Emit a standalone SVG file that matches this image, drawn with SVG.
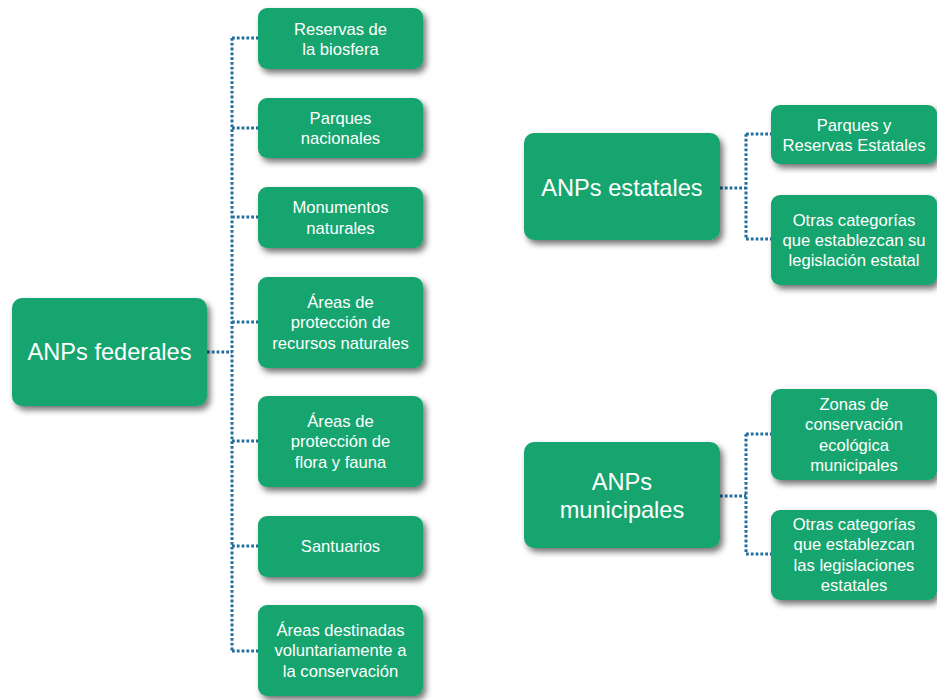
<svg xmlns="http://www.w3.org/2000/svg" width="937" height="700" viewBox="0 0 937 700">
<defs>
<filter id="sh" x="-20%" y="-20%" width="140%" height="150%">
<feDropShadow dx="3" dy="4" stdDeviation="3" flood-color="#000" flood-opacity="0.55"/>
</filter>
<style>
.box{fill:#19a56e;filter:url(#sh)}
.t{fill:#fff;font-family:"Liberation Sans",Arial,Helvetica,sans-serif;font-size:16.6px;text-anchor:middle}
.big{font-size:23.6px}
.c{fill:none;stroke:#226f9f;stroke-width:3;stroke-dasharray:2.8 2}
</style>
</defs>
<rect width="937" height="700" fill="#fff"/>
<g id="connectors">
<path class="c" d="M207 352H232M232 38V651M232 38H258M232 128H258M232 217H258M232 322H258M232 441H258M232 546H258M232 651H258"/>
<path class="c" d="M720 188H746M746 134V239M746 134H771M746 239H771"/>
<path class="c" d="M720 496H746M746 434V554M746 434H771M746 554H771"/>
</g>
<g id="federales"><rect class="box" x="12" y="298" width="195" height="108" rx="10"/><text class="t big" x="109.5" y="360">ANPs federales</text></g>
<g id="reservas"><rect class="box" x="258" y="8" width="165" height="61" rx="9"/><text class="t" x="340.5" y="35">Reservas de</text><text class="t" x="340.5" y="55">la biosfera</text></g>
<g id="parques"><rect class="box" x="258" y="98" width="165" height="60" rx="9"/><text class="t" x="340.5" y="124">Parques</text><text class="t" x="340.5" y="144">nacionales</text></g>
<g id="monumentos"><rect class="box" x="258" y="187" width="165" height="61" rx="9"/><text class="t" x="340.5" y="213">Monumentos</text><text class="t" x="340.5" y="234">naturales</text></g>
<g id="recursos"><rect class="box" x="258" y="277" width="165" height="91" rx="9"/><text class="t" x="340.5" y="308">Áreas de</text><text class="t" x="340.5" y="328">protección de</text><text class="t" x="340.5" y="349">recursos naturales</text></g>
<g id="flora"><rect class="box" x="258" y="396" width="165" height="91" rx="9"/><text class="t" x="340.5" y="427">Áreas de</text><text class="t" x="340.5" y="447">protección de</text><text class="t" x="340.5" y="468">flora y fauna</text></g>
<g id="santuarios"><rect class="box" x="258" y="516" width="165" height="61" rx="9"/><text class="t" x="340.5" y="552">Santuarios</text></g>
<g id="voluntarias"><rect class="box" x="258" y="605" width="165" height="91" rx="9"/><text class="t" x="340.5" y="636">Áreas destinadas</text><text class="t" x="340.5" y="656">voluntariamente a</text><text class="t" x="340.5" y="677">la conservación</text></g>
<g id="estatales"><rect class="box" x="524" y="133" width="196" height="107" rx="10"/><text class="t big" x="622" y="196">ANPs estatales</text></g>
<g id="parques-estatales"><rect class="box" x="771" y="105" width="166" height="59" rx="9"/><text class="t" x="854" y="131">Parques y</text><text class="t" x="854" y="151">Reservas Estatales</text></g>
<g id="otras-estatales"><rect class="box" x="771" y="195" width="166" height="90" rx="9"/><text class="t" x="854" y="226">Otras categorías</text><text class="t" x="854" y="246">que establezcan su</text><text class="t" x="854" y="266">legislación estatal</text></g>
<g id="municipales"><rect class="box" x="524" y="442" width="196" height="106" rx="10"/><text class="t big" x="622" y="490">ANPs</text><text class="t big" x="622" y="518">municipales</text></g>
<g id="zonas"><rect class="box" x="771" y="389" width="166" height="91" rx="9"/><text class="t" x="854" y="410">Zonas de</text><text class="t" x="854" y="430">conservación</text><text class="t" x="854" y="451">ecológica</text><text class="t" x="854" y="471">municipales</text></g>
<g id="otras-municipales"><rect class="box" x="771" y="510" width="166" height="90" rx="9"/><text class="t" x="854" y="530">Otras categorías</text><text class="t" x="854" y="550">que establezcan</text><text class="t" x="854" y="571">las legislaciones</text><text class="t" x="854" y="591">estatales</text></g>
</svg>
